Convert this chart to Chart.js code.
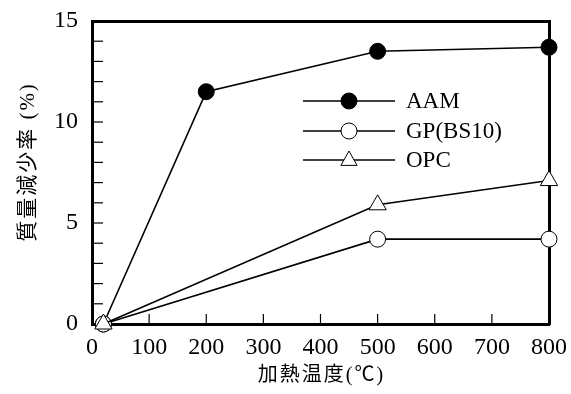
<!DOCTYPE html>
<html><head><meta charset="utf-8">
<script src="https://cdn.jsdelivr.net/npm/chart.js@4/dist/chart.umd.min.js"></script>
<style>html,body{margin:0;padding:0;background:#fff}#wrap{width:571px;height:394px}</style>
</head><body><div id="wrap"><canvas id="c" width="571" height="394"></canvas></div>
<script>
const seriesNames = ["AAM", "GP(BS10)", "OPC"];
const aamX = [20, 200, 500, 800];
const aamY = [0, 11.5, 13.5, 13.7];
const gpX = [20, 500, 800];
const gpY = [0, 4.2, 4.2];
const opcX = [20, 500, 800];
const opcY = [0, 5.9, 7.1];
const xTicks = [0, 100, 200, 300, 400, 500, 600, 700, 800];
const yTicks = [0, 5, 10, 15];
const xTitle = "加熱温度(℃)";
const yTitle = "質量減少率 (%)";

const pts = (xs, ys) => xs.map((x, i) => ({x: x, y: ys[i]}));
const FONT = "'Liberation Serif', 'Times New Roman', serif";
const JFONT = "'Liberation Serif', 'Noto Sans CJK JP', serif";

const innerTicks = {
  id: 'innerTicks',
  afterDraw(chart) {
    const ctx = chart.ctx, xs = chart.scales.x, ys = chart.scales.y, a = chart.chartArea;
    ctx.save();
    ctx.strokeStyle = '#000'; ctx.lineWidth = 1.2;
    for (let v = 1; v < 15; v++) {
      const p = ys.getPixelForValue(v);
      ctx.beginPath(); ctx.moveTo(a.left, p); ctx.lineTo(a.left + 11, p); ctx.stroke();
    }
    for (let v = 100; v < 800; v += 100) {
      const p = xs.getPixelForValue(v);
      ctx.beginPath(); ctx.moveTo(p, a.bottom); ctx.lineTo(p, a.bottom - 10); ctx.stroke();
    }
    ctx.fillStyle = '#000';
    ctx.textAlign = 'center'; ctx.textBaseline = 'middle';
    try { ctx.letterSpacing = '2px'; } catch (e) {}
    // x-axis title
    ctx.font = "20px " + JFONT;
    ctx.fillText(xTitle, (a.left + a.right) / 2 + 1, 376);
    // y-axis title
    ctx.translate(28.5, 162);
    ctx.rotate(-Math.PI / 2);
    ctx.font = "21px " + JFONT;
    ctx.fillText(yTitle, 0, 0);
    ctx.restore();
  }
};

const legendPlugin = {
  id: 'customLegend',
  afterDraw(chart) {
    const ctx = chart.ctx;
    const rows = [101, 131, 160];
    const styles = ['filled', 'open', 'tri'];
    ctx.save();
    seriesNames.forEach((name, i) => {
      const y = rows[i];
      ctx.strokeStyle = '#000'; ctx.lineWidth = 1.6;
      ctx.beginPath(); ctx.moveTo(303, y); ctx.lineTo(395, y); ctx.stroke();
      ctx.lineWidth = 1;
      if (styles[i] === 'tri') {
        const r = 9, cx = 349;
        ctx.beginPath();
        ctx.moveTo(cx, y - r);
        ctx.lineTo(cx + r * 0.9, y + r * 0.6);
        ctx.lineTo(cx - r * 0.9, y + r * 0.6);
        ctx.closePath();
        ctx.fillStyle = '#fff'; ctx.fill(); ctx.stroke();
      } else {
        ctx.beginPath(); ctx.arc(349, y, 8, 0, Math.PI * 2);
        ctx.fillStyle = styles[i] === 'filled' ? '#000' : '#fff';
        ctx.fill(); ctx.stroke();
      }
      ctx.fillStyle = '#000';
      ctx.font = "23px " + FONT;
      ctx.textBaseline = 'middle'; ctx.textAlign = 'left';
      ctx.fillText(name, 406, y + 1);
    });
    ctx.restore();
  }
};

const common = {borderColor: '#000', borderWidth: 1.6, pointBorderColor: '#000', pointBorderWidth: 1, clip: false, showLine: true};

new Chart(document.getElementById('c'), {
  type: 'scatter',
  data: {
    datasets: [
      Object.assign({label: seriesNames[0], data: pts(aamX, aamY), pointStyle: 'circle', pointRadius: 8, pointBackgroundColor: '#000', order: 2}, common),
      Object.assign({label: seriesNames[1], data: pts(gpX, gpY), pointStyle: 'circle', pointRadius: 8, pointBackgroundColor: '#fff', order: 1}, common),
      Object.assign({label: seriesNames[2], data: pts(opcX, opcY), pointStyle: 'triangle', pointRadius: 10, pointBackgroundColor: '#fff', order: 0}, common)
    ]
  },
  options: {
    responsive: false, animation: false, devicePixelRatio: 1,
    layout: {padding: 0},
    plugins: {legend: {display: false}, tooltip: {enabled: false}},
    scales: {
      x: {
        type: 'linear', position: 'bottom', min: 0, max: 800,
        afterBuildTicks: s => { s.ticks = xTicks.map(v => ({value: v})); },
        ticks: {color: '#000', font: {family: FONT, size: 24}, padding: 1, maxRotation: 0},
        grid: {display: false},
        border: {display: true, color: '#000', width: 3},
        title: {display: false},
        afterFit: s => { s.height = 70; }
      },
      x2: {
        type: 'linear', position: 'top', min: 0, max: 800,
        ticks: {display: false}, grid: {display: false},
        border: {display: true, color: '#000', width: 3},
        afterFit: s => { s.height = 21; }
      },
      y: {
        type: 'linear', position: 'left', min: 0, max: 15,
        afterBuildTicks: s => { s.ticks = yTicks.map(v => ({value: v})); },
        ticks: {color: '#000', font: {family: FONT, size: 24}, padding: 6},
        grid: {display: false},
        border: {display: true, color: '#000', width: 3},
        title: {display: false},
        afterFit: s => { s.width = 92; }
      },
      y2: {
        type: 'linear', position: 'right', min: 0, max: 15,
        ticks: {display: false}, grid: {display: false},
        border: {display: true, color: '#000', width: 3},
        afterFit: s => { s.width = 22; }
      }
    }
  },
  plugins: [innerTicks, legendPlugin]
});
</script></body></html>
